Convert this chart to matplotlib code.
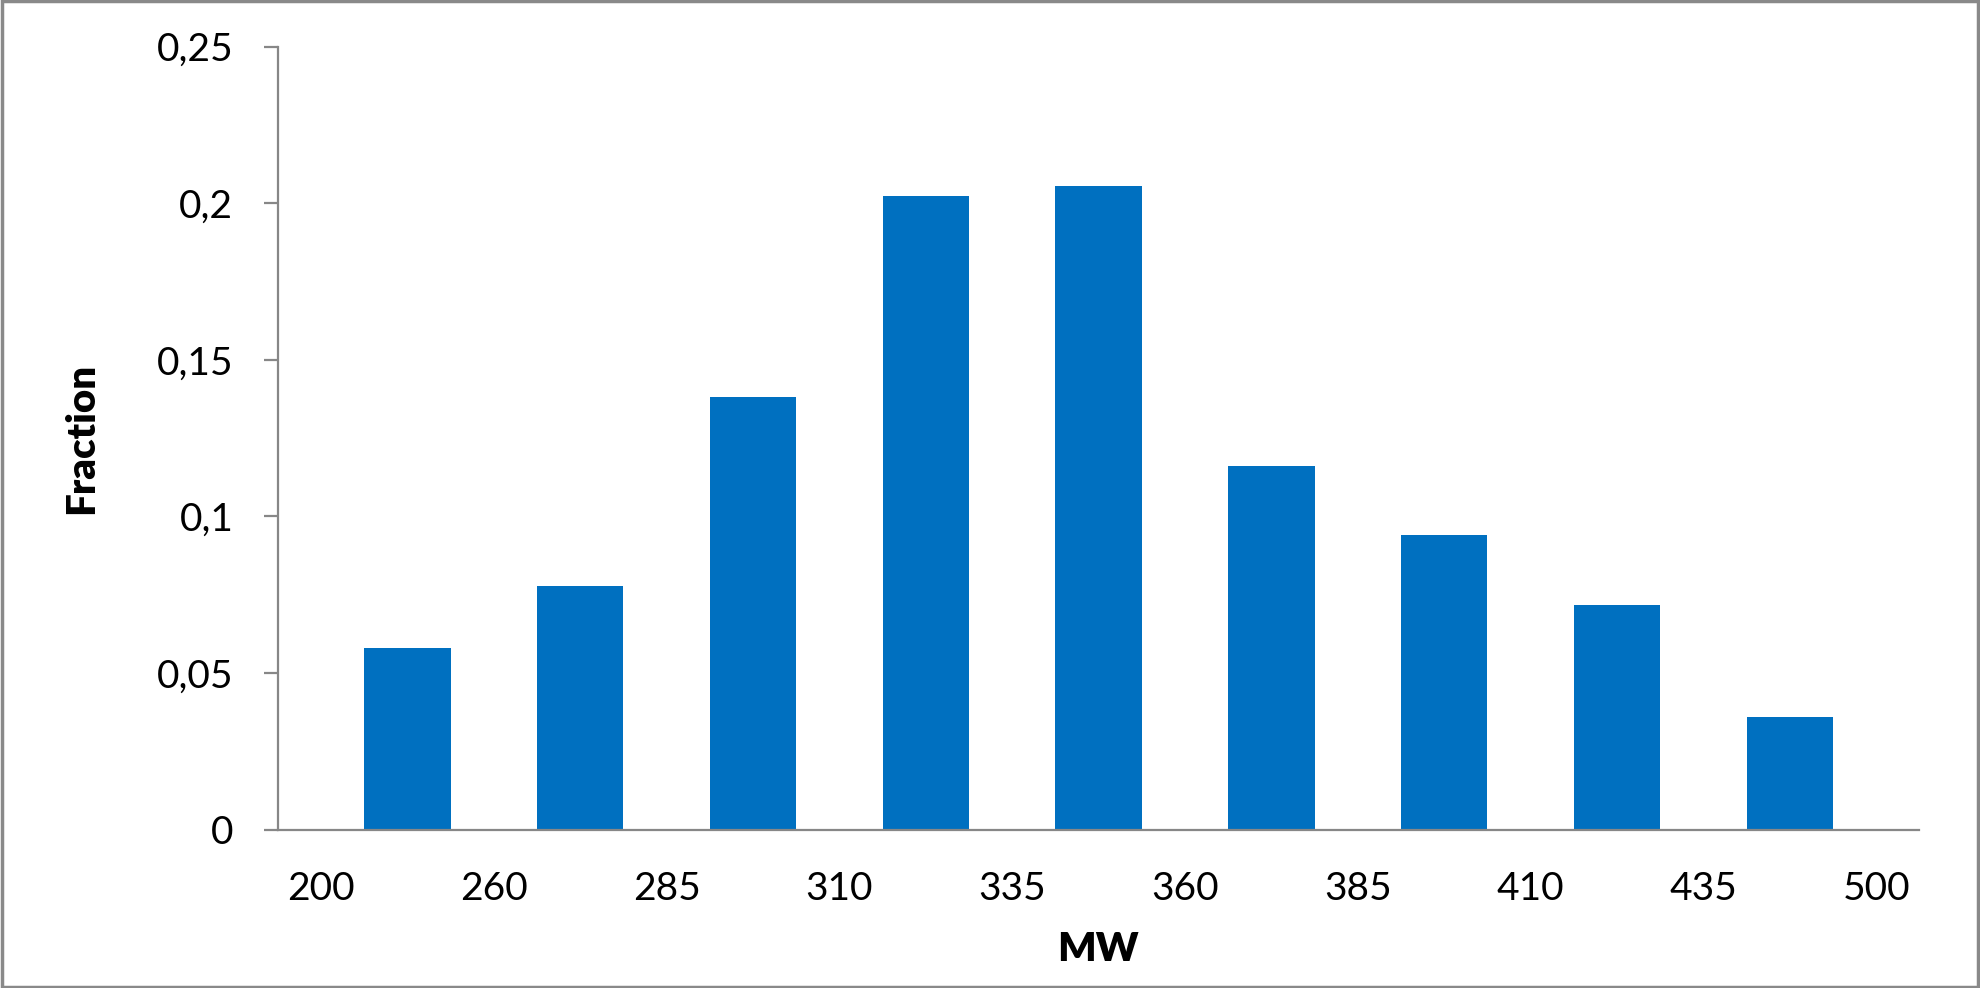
import matplotlib
matplotlib.use("Agg")
import matplotlib.pyplot as plt
from matplotlib.patches import Rectangle

edges = ["200", "260", "285", "310", "335", "360", "385", "410", "435", "500"]
fractions = [0.0581, 0.0778, 0.1383, 0.2024, 0.2056, 0.1161, 0.0940, 0.0718, 0.0359]
yticks = [0, 0.05, 0.1, 0.15, 0.2, 0.25]
ytick_labels = ["0", "0,05", "0,1", "0,15", "0,2", "0,25"]

plt.rcParams['font.family'] = ['Lato', 'DejaVu Sans']

fig = plt.figure(figsize=(19.8, 9.88), dpi=100)
ax = fig.add_axes([0.1403, 0.1603, 0.8291, 0.7924])

x = list(range(len(fractions)))
ax.bar(x, fractions, width=0.5, color="#0070C0")
ax.set_xlim(-0.75, len(fractions) - 0.25)
ax.set_ylim(0, 0.25)

ax.set_xticks([i - 0.5 for i in range(len(edges))])
ax.set_xticklabels(edges)
ax.set_yticks(yticks)
ax.set_yticklabels(ytick_labels)

gray = "#878787"
for s in ["top", "right"]:
    ax.spines[s].set_visible(False)
for s in ["left", "bottom"]:
    ax.spines[s].set_color(gray)
    ax.spines[s].set_linewidth(1.6)

ax.tick_params(axis="x", length=0, pad=30, labelsize=28)
ax.tick_params(axis="y", length=10, width=1.6, color=gray, pad=22, labelsize=28)

fig.text(0.5545, 0.0389, "MW", fontsize=29, fontweight="heavy", ha="center", va="center")
fig.text(0.0414, 0.5565, "Fraction", fontsize=29, fontweight="heavy", rotation=90,
         ha="center", va="center")

fig.patches.append(Rectangle((0.0008, 0.0015), 0.9984, 0.997, transform=fig.transFigure,
                             fill=False, edgecolor="#898989", linewidth=2.5))

fig.savefig("out.png", dpi=100)
